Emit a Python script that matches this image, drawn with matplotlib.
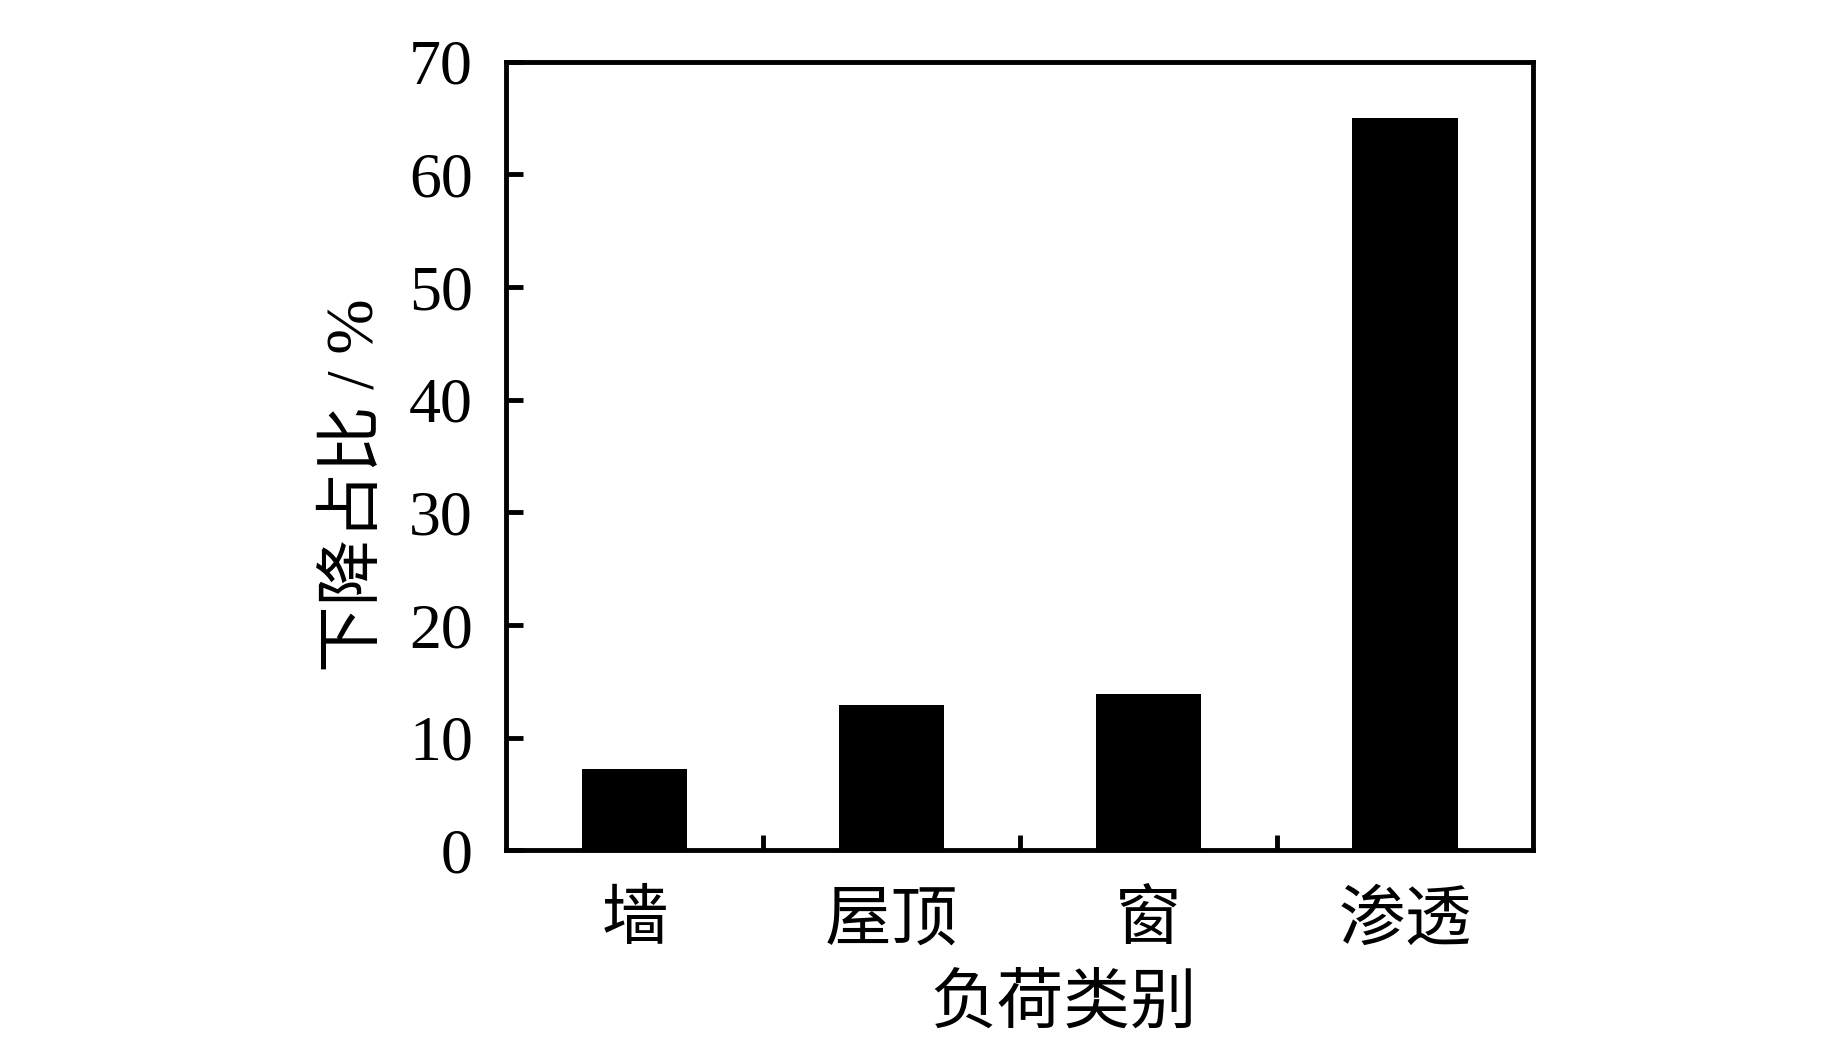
import matplotlib
matplotlib.use('Agg')
from matplotlib import pyplot as plt
from matplotlib.ticker import FixedLocator

plt.rcParams['font.family'] = ['Liberation Serif', 'Noto Sans CJK SC']

categories = ['墙', '屋顶', '窗', '渗透']
ratio = [7.2, 12.9, 13.9, 65.0]
yticks = [0, 10, 20, 30, 40, 50, 60, 70]

fig = plt.figure(figsize=(18.43, 10.63), dpi=100)
ax = fig.add_axes([0.2747, 0.200, 0.5573, 0.742])

x = list(range(len(categories)))
ax.bar(x, ratio, width=0.41, color='black')

ax.set_xlim(-0.5, 3.5)
ax.set_ylim(0, 70)
ax.set_yticks(yticks)
ax.set_xticks(x)
ax.set_xticklabels(categories, fontsize=48)
ax.xaxis.set_minor_locator(FixedLocator([0.5, 1.5, 2.5]))
ax.tick_params(axis='x', which='major', length=0, pad=30)
ax.tick_params(axis='x', which='minor', direction='in', length=11, width=3.5)
ax.tick_params(axis='y', direction='in', length=12, width=3.5, labelsize=46, pad=24)

for s in ax.spines.values():
    s.set_linewidth(3.5)

ax.set_xlabel('负荷类别', fontsize=48, labelpad=16)
ax.set_ylabel('下降占比 / %', fontsize=48, labelpad=16)
ax.xaxis.label.set_x(0.543)
ax.yaxis.label.set_y(0.463)

fig.savefig('out.png', dpi=100)
